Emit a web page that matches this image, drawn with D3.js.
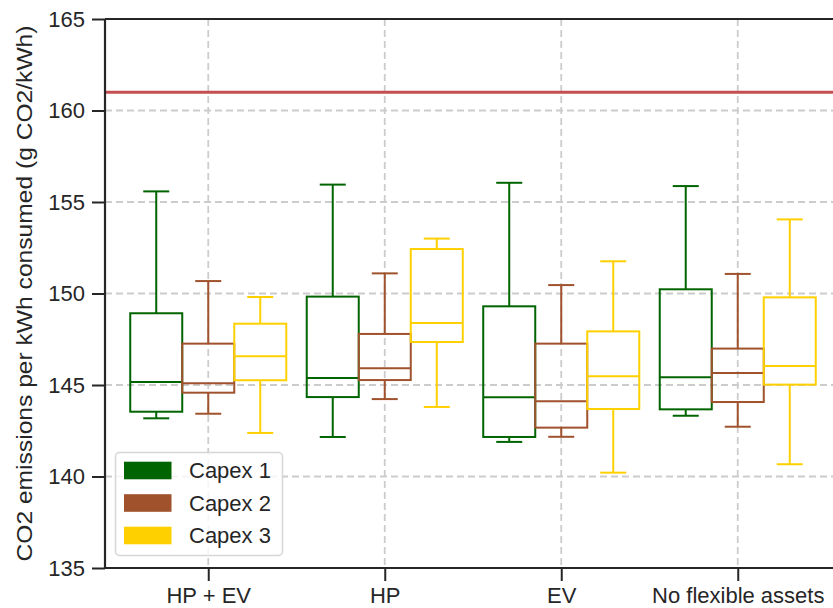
<!DOCTYPE html>
<html><head><meta charset="utf-8">
<script src="https://cdn.jsdelivr.net/npm/d3@7"></script>
<style>
body{margin:0;background:#fff;}
svg{display:block;font-family:"Liberation Sans",Arial,sans-serif;}
</style></head>
<body><svg id="c" width="833" height="608"></svg>
<script>
const categories = ["HP + EV", "HP", "EV", "No flexible assets"];
const series = ["Capex 1", "Capex 2", "Capex 3"];
const colors = ["#006400", "#A0522D", "#FFD000"];
const yTicks = [135, 140, 145, 150, 155, 160, 165];
const referenceLine = 161;
// [lowerWhisker, q1, median, q3, upperWhisker] per category, per series
const capex1 = [
  [143.18, 143.54, 145.16, 148.92, 155.58],
  [142.16, 144.34, 145.38, 149.83, 155.95],
  [141.89, 142.16, 144.33, 149.30, 156.05],
  [143.32, 143.67, 145.42, 150.23, 155.87]
];
const capex2 = [
  [143.43, 144.58, 145.09, 147.26, 150.68],
  [144.23, 145.27, 145.91, 147.79, 151.10],
  [142.17, 142.67, 144.11, 147.26, 150.46],
  [142.72, 144.07, 145.66, 146.99, 151.07]
];
const capex3 = [
  [142.38, 145.26, 146.57, 148.35, 149.81],
  [143.80, 147.35, 148.39, 152.43, 153.00],
  [140.21, 143.69, 145.48, 147.93, 151.76],
  [140.67, 145.02, 146.04, 149.79, 154.05]
];
const seriesValues = [capex1, capex2, capex3];

const svg = d3.select("#c");
const L = 105, R = 841, T = 19, B = 568;
const txt = "#262626";
const fs = 22;

const y = d3.scaleLinear().domain([135, 165]).range([B, T]);
const x = d3.scalePoint().domain(categories).range([L, R]).padding(0.585);
const step = x.step();
const hue = d3.scaleBand().domain(series).range([-step * 0.442, step * 0.442]);
const bw = hue.bandwidth();

// grid
const grid = svg.append("g");
grid.selectAll("line.h").data(yTicks.filter(t => t > 135 && t < 165)).join("line")
  .attr("x1", L).attr("x2", R).attr("y1", d => y(d)).attr("y2", d => y(d))
  .attr("stroke", "#cccccc").attr("stroke-width", 1.8).attr("stroke-dasharray", "7,4");
grid.selectAll("line.v").data(categories).join("line")
  .attr("x1", d => x(d)).attr("x2", d => x(d)).attr("y1", T).attr("y2", B)
  .attr("stroke", "#cccccc").attr("stroke-width", 1.8).attr("stroke-dasharray", "7,4");

// reference line
svg.append("line").attr("x1", L).attr("x2", R)
  .attr("y1", y(referenceLine)).attr("y2", y(referenceLine))
  .attr("stroke", "#c44e52").attr("stroke-width", 3);

// boxes
seriesValues.forEach((vals, si) => {
  const g = svg.append("g").attr("stroke", colors[si]).attr("stroke-width", 2).attr("fill", "none");
  vals.forEach((v, ci) => {
    const cx = x(categories[ci]) + hue(series[si]) + bw / 2;
    const x0 = cx - bw / 2, x1 = cx + bw / 2;
    const [lo, q1, med, q3, hi] = v;
    g.append("line").attr("x1", cx).attr("x2", cx).attr("y1", y(q3)).attr("y2", y(hi));
    g.append("line").attr("x1", cx).attr("x2", cx).attr("y1", y(q1)).attr("y2", y(lo));
    g.append("line").attr("x1", cx - bw / 4).attr("x2", cx + bw / 4).attr("y1", y(hi)).attr("y2", y(hi));
    g.append("line").attr("x1", cx - bw / 4).attr("x2", cx + bw / 4).attr("y1", y(lo)).attr("y2", y(lo));
    g.append("rect").attr("x", x0).attr("y", y(q3)).attr("width", bw).attr("height", y(q1) - y(q3));
    g.append("line").attr("x1", x0).attr("x2", x1).attr("y1", y(med)).attr("y2", y(med));
  });
});

// axes
const yAxis = svg.append("g").attr("transform", `translate(${L},0)`)
  .call(d3.axisLeft(y).tickValues(yTicks).tickSize(13).tickPadding(7).tickFormat(d3.format("d")));
const xAxis = svg.append("g").attr("transform", `translate(0,${B})`)
  .call(d3.axisBottom(x).tickSize(13).tickPadding(6));
[yAxis, xAxis].forEach(a => {
  a.select(".domain").remove();
  a.selectAll(".tick line").attr("stroke", txt).attr("stroke-width", 2);
  a.selectAll(".tick text").attr("fill", txt).attr("font-size", fs)
    .attr("font-family", "'Liberation Sans', Arial, sans-serif");
});

// spines
svg.append("line").attr("x1", L).attr("x2", L).attr("y1", T).attr("y2", B).attr("stroke", txt).attr("stroke-width", 2.2);
svg.append("line").attr("x1", L).attr("x2", R).attr("y1", B).attr("y2", B).attr("stroke", txt).attr("stroke-width", 2.2);
svg.append("line").attr("x1", L).attr("x2", R).attr("y1", T).attr("y2", T).attr("stroke", txt).attr("stroke-width", 2.2);

// y label
svg.append("text").attr("transform", `translate(32,${(T + B) / 2}) rotate(-90)`)
  .attr("text-anchor", "middle").attr("fill", txt).attr("font-size", fs)
  .attr("textLength", 536).attr("lengthAdjust", "spacingAndGlyphs")
  .text("CO2 emissions per kWh consumed (g CO2/kWh)");

// legend
const lg = svg.append("g");
lg.append("rect").attr("x", 115.5).attr("y", 452.5).attr("width", 167).attr("height", 103)
  .attr("rx", 4).attr("fill", "#ffffff").attr("fill-opacity", 0.8).attr("stroke", "#d6d6d6").attr("stroke-width", 1.5);
series.forEach((s, i) => {
  const cy = 470.5 + i * 32.5;
  lg.append("rect").attr("x", 124).attr("y", cy - 8.8).attr("width", 47.5).attr("height", 17.6).attr("fill", colors[i]);
  lg.append("text").attr("x", 189).attr("y", cy).attr("dy", "0.36em").attr("fill", txt).attr("font-size", fs).text(s);
});
</script></body></html>
